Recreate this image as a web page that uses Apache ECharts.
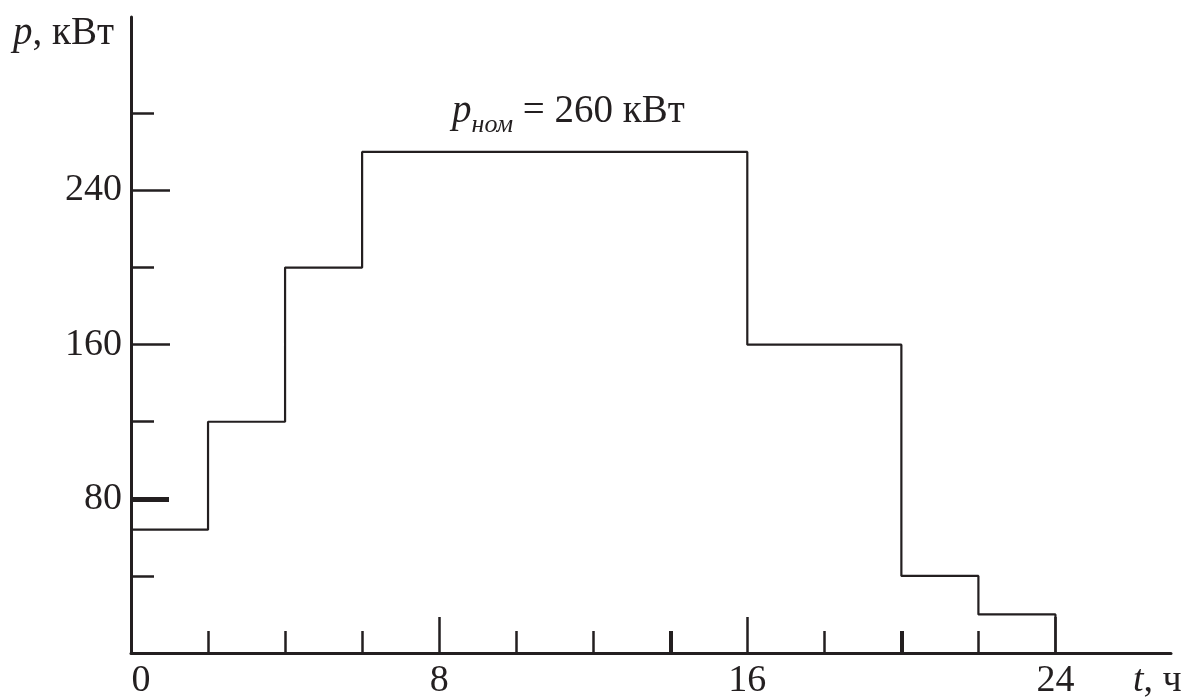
<!DOCTYPE html>
<html><head><meta charset="utf-8">
<script src="https://cdn.jsdelivr.net/npm/echarts@6/dist/echarts.min.js"></script>
<style>html,body{margin:0;padding:0;background:#fff}#c{width:1186px;height:700px}</style>
</head><body><div id="c"></div>
<script>
// ---- data ----
const breakTimes = [0, 2, 4, 6, 16, 20, 22, 24];   // hours
const powers = [64, 120, 200, 260, 160, 40, 20];    // kW on each interval
const xLabelValues = [0, 8, 16, 24];
const xLongTicks = [8, 16, 24];
const xShortTicks = [2, 4, 6, 10, 12, 18, 22];
const xBoldTicks = [14, 20];
const yLabelValues = [80, 160, 240];
const yLongTicks = [160, 240];
const yBoldTicks = [80];
const yShortTicks = [40, 120, 200, 280];
const xMax = 27, yMax = 330;

const INK = '#231f20';
const FONT = '"Liberation Serif", "DejaVu Serif", serif';

// step polyline built from the interval data
const pts = [];
for (let i = 0; i < powers.length; i++) {
  pts.push([breakTimes[i], powers[i]]);
  pts.push([breakTimes[i + 1], powers[i]]);
}
pts.push([breakTimes[breakTimes.length - 1], 0]);

function xAx(ticks, len, width, opts) {
  return Object.assign({
    type: 'value', min: 0, max: xMax, position: 'bottom', offset: 0,
    axisLine: { show: false },
    axisTick: { show: true, inside: true, length: len, customValues: ticks, lineStyle: { color: INK, width: width } },
    axisLabel: { show: false },
    splitLine: { show: false }
  }, opts || {});
}
function yAx(ticks, len, width, opts) {
  return Object.assign({
    type: 'value', min: 0, max: yMax, position: 'left', offset: 0,
    axisLine: { show: false },
    axisTick: { show: true, inside: true, length: len, customValues: ticks, lineStyle: { color: INK, width: width } },
    axisLabel: { show: false },
    splitLine: { show: false }
  }, opts || {});
}

const chart = echarts.init(document.getElementById('c'));
chart.setOption({
  animation: false,
  backgroundColor: '#fff',
  grid: { left: 131, right: 15, top: 17, bottom: 47, containLabel: false },
  xAxis: [
    xAx(xLongTicks, 36, 2.5, {
      axisLine: { show: true, lineStyle: { color: INK, width: 3 } },
      axisLabel: {
        show: true, customValues: xLabelValues, margin: 9,
        color: INK, fontFamily: FONT, fontSize: 38,
        formatter: v => v === 0 ? '{z|0}' : String(v),
        rich: { z: { padding: [0, 0, 0, 20], color: INK, fontFamily: FONT, fontSize: 38 } }
      }
    }),
    xAx(xShortTicks, 22, 2.5),
    xAx(xBoldTicks, 22, 4)
  ],
  yAxis: [
    yAx(yLongTicks, 39, 2.5, {
      axisLine: { show: true, lineStyle: { color: INK, width: 3 } },
      axisLabel: {
        show: true, customValues: yLabelValues, margin: 9,
        color: INK, fontFamily: FONT, fontSize: 38
      }
    }),
    yAx(yShortTicks, 23, 2.5),
    yAx(yBoldTicks, 38, 5)
  ],
  graphic: [
    { type: 'text', left: 13, top: 14, style: {
        text: '{i|p}{n|, кВт}',
        rich: {
          i: { fontFamily: FONT, fontStyle: 'italic', fontSize: 39, fill: INK },
          n: { fontFamily: FONT, fontSize: 39, fill: INK }
        } } },
    { type: 'text', left: 1133, top: 662, style: {
        text: '{i|t}{n|, ч}',
        rich: {
          i: { fontFamily: FONT, fontStyle: 'italic', fontSize: 38, fill: INK },
          n: { fontFamily: FONT, fontSize: 38, fill: INK }
        } } },
    { type: 'text', left: 452, top: 92, style: {
        text: '{i|p}{s|ном}{n| = 260 кВт}',
        rich: {
          i: { fontFamily: FONT, fontStyle: 'italic', fontSize: 39, lineHeight: 40, verticalAlign: 'top', fill: INK },
          s: { fontFamily: FONT, fontStyle: 'italic', fontSize: 26, lineHeight: 66, verticalAlign: 'middle', fill: INK },
          n: { fontFamily: FONT, fontSize: 39, lineHeight: 40, verticalAlign: 'top', fill: INK }
        } } }
  ],
  series: [{
    type: 'line',
    xAxisIndex: 0, yAxisIndex: 0,
    data: pts,
    showSymbol: false,
    symbol: 'none',
    lineStyle: { color: INK, width: 2.2 },
    silent: true
  }]
});
</script>
</body></html>
